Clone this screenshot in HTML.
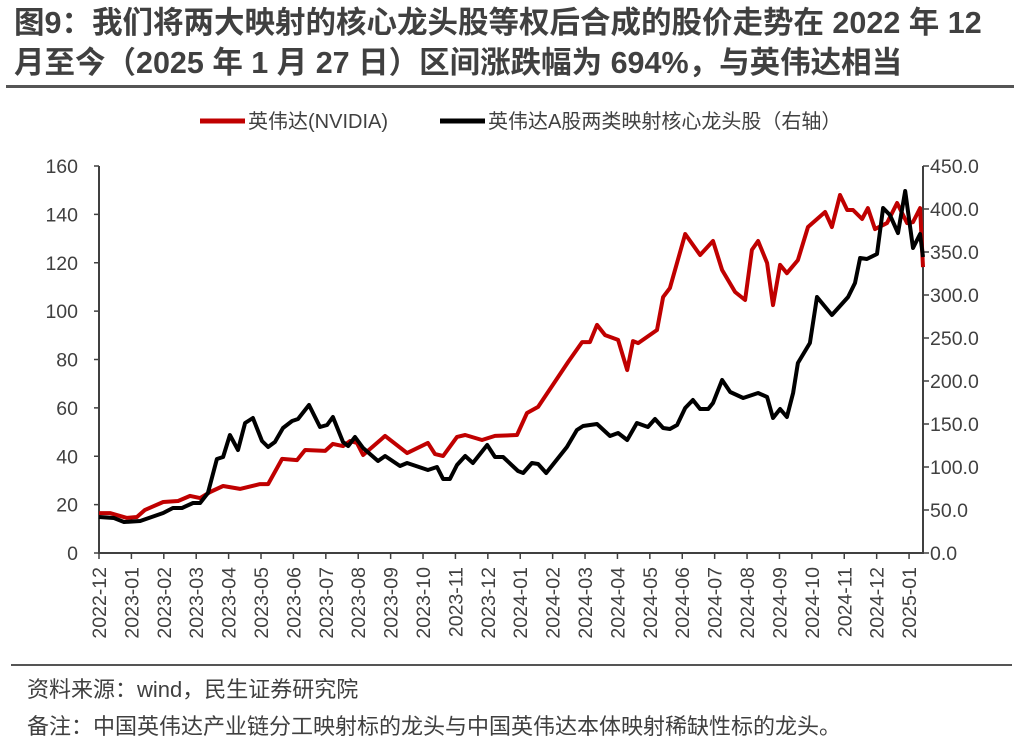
<!DOCTYPE html>
<html><head><meta charset="utf-8"><style>
html,body{margin:0;padding:0;background:#fff;}
body{width:1024px;height:746px;overflow:hidden;position:relative;font-family:"Liberation Sans","Noto Sans CJK SC",sans-serif;}
</style></head><body>
<svg width="1024" height="746" viewBox="0 0 1024 746" xmlns="http://www.w3.org/2000/svg" id="svg" style="font-family:'Liberation Sans','Noto Sans CJK SC',sans-serif">
<text x="14" y="33" font-size="30.5" font-weight="bold" fill="#404040">图9：我们将两大映射的核心龙头股等权后合成的股价走势在 2022 年 12</text>
<text x="14" y="73" font-size="30.5" font-weight="bold" fill="#404040">月至今（2025 年 1 月 27 日）区间涨跌幅为 694%，与英伟达相当</text>
<rect x="6" y="85" width="1008" height="3" fill="#555"/>
<g>
<line x1="200" y1="121" x2="245" y2="121" stroke="#c00000" stroke-width="5"/>
<text x="248" y="128" font-size="20" fill="#404040">英伟达(NVIDIA)</text>
<line x1="440" y1="121" x2="485" y2="121" stroke="#000" stroke-width="5"/>
<text x="488" y="128" font-size="20" fill="#404040">英伟达A股两类映射核心龙头股（右轴）</text>
</g>
<g id="axes"></g>
<g id="series"></g>
<rect x="11" y="664" width="1001" height="2" fill="#555"/>
<text x="27" y="697" font-size="22" fill="#404040">资料来源：wind，民生证券研究院</text>
<text x="27" y="734" font-size="22" fill="#404040">备注：中国英伟达产业链分工映射标的龙头与中国英伟达本体映射稀缺性标的龙头。</text>
</svg>
<script>
const monthLabels=["2022-12","2023-01","2023-02","2023-03","2023-04","2023-05","2023-06","2023-07","2023-08","2023-09","2023-10","2023-11","2023-12","2024-01","2024-02","2024-03","2024-04","2024-05","2024-06","2024-07","2024-08","2024-09","2024-10","2024-11","2024-12","2025-01"];
const leftTicks=[0,20,40,60,80,100,120,140,160];
const rightTicks=[0,50,100,150,200,250,300,350,400,450];
const nvT=[0,.34,.86,1.17,1.42,1.98,2.44,2.81,3.12,3.43,3.83,4.35,4.97,5.22,5.65,6.11,6.36,6.98,7.22,7.53,7.75,7.96,8.15,8.83,9.51,10.15,10.37,10.62,11.05,11.30,11.82,12.22,12.90,13.21,13.55,14.48,14.91,15.15,15.37,15.62,16.02,16.30,16.48,16.64,17.22,17.41,17.62,18.09,18.55,18.95,19.23,19.63,19.94,20.15,20.34,20.62,20.80,21.02,21.23,21.57,21.88,22.41,22.62,22.87,23.09,23.27,23.55,23.73,23.95,24.32,24.63,24.94,25.12,25.34,25.43];
const nvV=[16.5,16.5,14.5,14.9,17.8,21.1,21.5,23.6,22.7,25.2,27.7,26.5,28.5,28.5,38.9,38.4,42.6,42.2,45.1,44.2,46.3,45.5,40.5,48.4,41.3,45.5,40.9,40.1,48.0,48.8,46.7,48.4,48.8,57.9,60.4,79.0,87.2,87.2,94.3,90.1,88.1,75.6,87.6,86.8,92.2,105.8,109.5,131.9,123.2,129.0,117.0,107.9,104.6,125.3,129.0,119.9,102.5,119.1,115.7,121.1,134.8,141.0,134.8,148.0,141.8,141.8,138.1,142.6,133.9,136.4,144.7,136.4,136.8,142.6,118.2];
const shT=[0,.46,.77,1.27,1.98,2.28,2.56,2.90,3.12,3.36,3.64,3.83,4.04,4.29,4.51,4.75,5.03,5.22,5.43,5.68,5.96,6.14,6.48,6.82,7.04,7.22,7.53,7.69,7.90,8.15,8.61,8.83,9.29,9.51,10.15,10.43,10.62,10.83,11.05,11.30,11.54,11.98,12.22,12.47,12.93,13.09,13.36,13.55,13.80,14.44,14.75,14.94,15.37,15.77,16.02,16.30,16.60,16.94,17.16,17.41,17.62,17.84,18.09,18.33,18.55,18.80,18.95,19.23,19.48,19.88,20.34,20.62,20.80,21.02,21.23,21.42,21.57,21.94,22.16,22.62,22.87,23.12,23.33,23.49,23.70,24.01,24.20,24.41,24.66,24.88,25.12,25.34,25.43];
const shV=[41.9,40.7,36.0,37.2,46.5,52.3,52.3,58.1,58.1,69.8,109.3,111.6,137.2,119.8,151.2,157.0,130.2,123.3,129.1,145.3,153.5,155.8,172.1,146.5,148.8,158.1,129.1,124.4,134.9,122.1,107.0,112.8,101.2,104.7,96.5,100.0,86.0,86.0,102.3,112.8,104.7,125.6,111.6,111.6,95.3,93.0,104.7,103.5,93.0,123.3,143.0,147.7,150.0,136.0,139.5,131.4,151.2,146.5,155.8,145.3,144.2,148.8,168.6,177.9,167.4,167.4,174.4,201.2,187.2,180.2,186.0,181.4,157.0,167.4,158.1,186.0,220.9,244.2,297.7,276.7,287.2,297.7,314.0,343.0,341.9,347.7,401.2,393.0,372.1,420.9,354.7,370.9,344.2];
const NS="http://www.w3.org/2000/svg";
const X0=99,X1=923,Y0=553,Y1=166,TMAX=25.43;
const x=t=>X0+(X1-X0)*t/TMAX;
const yL=v=>Y0-(Y0-Y1)*v/160;
const yR=v=>Y0-(Y0-Y1)*v/450;
const axes=document.getElementById('axes'),series=document.getElementById('series');
function mk(tag,attrs,parent,txt){const e=document.createElementNS(NS,tag);for(const k in attrs)e.setAttribute(k,attrs[k]);if(txt!==undefined)e.textContent=txt;parent.appendChild(e);return e;}
const ax=mk('path',{d:`M${X0} ${Y1}V${Y0}H${X1}V${Y1}`,fill:'none',stroke:'#404040','stroke-width':2},axes);


leftTicks.forEach(v=>{
 const t=mk('line',{x1:X0,x2:X0-5,y1:yL(v),y2:yL(v),stroke:'#404040','stroke-width':1.5},axes);
 
 
 const l=mk('text',{x:78,y:yL(v)+7,'font-size':19.5,fill:'#404040','text-anchor':'end'},axes,String(v));
 
 
});
rightTicks.forEach(v=>{
 const t=mk('line',{x1:X1,x2:X1+6,y1:yR(v),y2:yR(v),stroke:'#404040','stroke-width':1.5},axes);
 
 
 const l=mk('text',{x:930,y:yR(v)+7,'font-size':19.5,fill:'#404040'},axes,v.toFixed(1));
 
 
});
monthLabels.forEach((m,i)=>{
 const px=x(i);
 const t=mk('line',{x1:px,x2:px,y1:Y0,y2:Y0+6,stroke:'#404040','stroke-width':1.5},axes);
 
 
 const l=mk('text',{x:0,y:0,'font-size':19.5,fill:'#404040','text-anchor':'end',transform:`translate(${px+7},${Y0+14}) rotate(-90)`},axes,m);
 
 
});
function line(T,V,yf,color,name){
 const d=T.map((t,i)=>(i?'L':'M')+x(t).toFixed(1)+' '+yf(V[i]).toFixed(1)).join('');
 const p=mk('path',{d,fill:'none',stroke:color,'stroke-width':4,'stroke-linejoin':'round'},series);
 
 
}
line(nvT,nvV,yL,'#c00000','nvidia-line');
line(shT,shV,yR,'#000000','ashare-core-line');
</script>
</body></html>
